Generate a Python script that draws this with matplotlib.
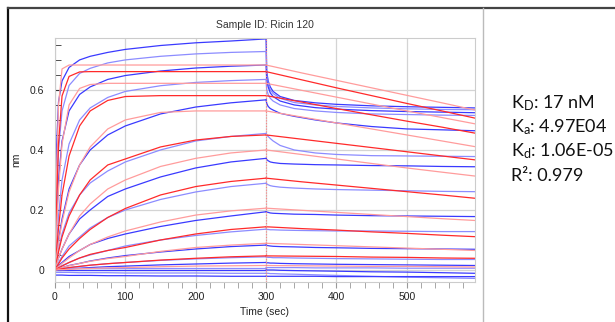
import numpy as np
import matplotlib
matplotlib.use("Agg")
import matplotlib.pyplot as plt
from matplotlib.lines import Line2D
from matplotlib.ticker import MultipleLocator

plt.rcParams['font.family'] = ['Liberation Sans', 'DejaVu Sans']
plt.rcParams['mathtext.fontset'] = 'custom'
plt.rcParams['mathtext.rm'] = 'Lato'
plt.rcParams['mathtext.it'] = 'Lato'

# sensorgram values (nm)
t_assoc = [0, 2, 5, 10, 20, 35, 50, 75, 100, 150, 200, 250, 300]
t_diss_blue = [300, 301, 303, 306, 310, 320, 340, 370, 400, 450, 500, 550, 597]
t_diss_red = [300, 350, 400, 450, 500, 550, 597]

blue_assoc = [
    [0, 0.40, 0.56, 0.63, 0.675, 0.70, 0.712, 0.725, 0.735, 0.748, 0.757, 0.763, 0.77],
    [0, 0.22, 0.40, 0.53, 0.615, 0.655, 0.672, 0.69, 0.70, 0.712, 0.72, 0.725, 0.728],
    [0, 0.15, 0.30, 0.43, 0.53, 0.585, 0.61, 0.635, 0.648, 0.663, 0.673, 0.679, 0.683],
    [0, 0.08, 0.18, 0.30, 0.42, 0.50, 0.54, 0.575, 0.595, 0.614, 0.625, 0.631, 0.635],
    [0, 0.04, 0.10, 0.17, 0.27, 0.35, 0.40, 0.45, 0.48, 0.52, 0.543, 0.557, 0.567],
    [0, 0.03, 0.07, 0.12, 0.19, 0.25, 0.29, 0.33, 0.36, 0.40, 0.43, 0.445, 0.455],
    [0, 0.02, 0.04, 0.07, 0.12, 0.17, 0.20, 0.245, 0.27, 0.31, 0.34, 0.36, 0.372],
    [0, 0.01, 0.025, 0.045, 0.08, 0.11, 0.14, 0.175, 0.20, 0.235, 0.26, 0.278, 0.289],
    [0, 0.005, 0.015, 0.025, 0.045, 0.065, 0.085, 0.105, 0.12, 0.145, 0.165, 0.18, 0.194],
    [0, 0.003, 0.008, 0.015, 0.025, 0.04, 0.05, 0.065, 0.08, 0.10, 0.115, 0.127, 0.136],
    [0, 0.002, 0.005, 0.008, 0.015, 0.022, 0.03, 0.04, 0.048, 0.06, 0.07, 0.078, 0.083],
    [0, 0.001, 0.002, 0.004, 0.008, 0.012, 0.016, 0.021, 0.025, 0.032, 0.037, 0.041, 0.044],
    [0, 0.001, 0.001, 0.002, 0.004, 0.006, 0.008, 0.011, 0.013, 0.017, 0.02, 0.023, 0.025],
    [0.008, 0.008, 0.008, 0.008, 0.008, 0.008, 0.008, 0.008, 0.008, 0.008, 0.008, 0.008, 0.008],
    [0, 0, 0, 0, 0, 0, 0, 0, 0, 0, 0, 0, 0],
    [-0.008, -0.008, -0.008, -0.008, -0.008, -0.009, -0.009, -0.009, -0.01, -0.01, -0.01, -0.011, -0.011],
    [-0.017, -0.017, -0.017, -0.017, -0.018, -0.018, -0.018, -0.019, -0.019, -0.02, -0.02, -0.021, -0.021],
]
blue_diss = [
    [0.77, 0.66, 0.63, 0.61, 0.595, 0.578, 0.565, 0.557, 0.552, 0.547, 0.544, 0.542, 0.54],
    [0.728, 0.65, 0.62, 0.60, 0.588, 0.572, 0.558, 0.55, 0.545, 0.54, 0.537, 0.535, 0.534],
    [0.683, 0.63, 0.61, 0.59, 0.578, 0.563, 0.55, 0.541, 0.536, 0.531, 0.528, 0.526, 0.524],
    [0.635, 0.60, 0.585, 0.572, 0.563, 0.55, 0.538, 0.53, 0.525, 0.52, 0.518, 0.516, 0.515],
    [0.567, 0.555, 0.545, 0.538, 0.533, 0.522, 0.512, 0.50, 0.49, 0.478, 0.47, 0.467, 0.464],
    [0.455, 0.45, 0.445, 0.438, 0.43, 0.415, 0.40, 0.39, 0.385, 0.381, 0.38, 0.379, 0.378],
    [0.372, 0.368, 0.364, 0.36, 0.358, 0.355, 0.353, 0.351, 0.35, 0.348, 0.347, 0.345, 0.344],
    [0.289, 0.287, 0.284, 0.281, 0.279, 0.276, 0.273, 0.27, 0.268, 0.266, 0.264, 0.262, 0.261],
    [0.194, 0.193, 0.192, 0.19, 0.189, 0.188, 0.186, 0.185, 0.183, 0.181, 0.18, 0.179, 0.178],
    [0.136, 0.135, 0.135, 0.134, 0.134, 0.133, 0.132, 0.131, 0.13, 0.13, 0.129, 0.128, 0.128],
    [0.083, 0.082, 0.081, 0.08, 0.079, 0.078, 0.077, 0.075, 0.074, 0.072, 0.071, 0.07, 0.069],
    [0.044, 0.043, 0.042, 0.042, 0.041, 0.041, 0.04, 0.039, 0.038, 0.037, 0.036, 0.035, 0.035],
    [0.025, 0.024, 0.024, 0.023, 0.023, 0.022, 0.021, 0.02, 0.019, 0.018, 0.017, 0.016, 0.015],
    [0.008, 0.008, 0.008, 0.008, 0.008, 0.008, 0.008, 0.007, 0.007, 0.007, 0.006, 0.006, 0.006],
    [0, 0, 0, 0, 0, -0.001, -0.002, -0.003, -0.004, -0.006, -0.007, -0.009, -0.011],
    [-0.011, -0.011, -0.011, -0.012, -0.012, -0.013, -0.014, -0.016, -0.018, -0.021, -0.024, -0.026, -0.028],
    [-0.021, -0.021, -0.021, -0.021, -0.021, -0.021, -0.021, -0.021, -0.022, -0.022, -0.022, -0.022, -0.022],
]
red_assoc = [
    [0, 0.30, 0.55, 0.67, 0.683, 0.683, 0.683, 0.683, 0.683, 0.683, 0.683, 0.683, 0.683],
    [0, 0.20, 0.42, 0.58, 0.645, 0.66, 0.661, 0.661, 0.661, 0.661, 0.661, 0.661, 0.661],
    [0, 0.12, 0.27, 0.42, 0.55, 0.605, 0.618, 0.622, 0.622, 0.622, 0.622, 0.622, 0.622],
    [0, 0.06, 0.14, 0.25, 0.38, 0.48, 0.53, 0.565, 0.578, 0.581, 0.581, 0.581, 0.581],
    [0, 0.04, 0.09, 0.16, 0.26, 0.35, 0.41, 0.47, 0.50, 0.525, 0.53, 0.53, 0.53],
    [0, 0.025, 0.06, 0.11, 0.18, 0.25, 0.30, 0.35, 0.37, 0.41, 0.433, 0.445, 0.45],
    [0, 0.015, 0.04, 0.07, 0.12, 0.18, 0.22, 0.27, 0.30, 0.345, 0.372, 0.39, 0.40],
    [0, 0.01, 0.02, 0.04, 0.07, 0.105, 0.135, 0.175, 0.205, 0.25, 0.278, 0.295, 0.306],
    [0, 0.005, 0.012, 0.022, 0.04, 0.065, 0.085, 0.11, 0.13, 0.16, 0.183, 0.197, 0.206],
    [0, 0.003, 0.007, 0.013, 0.025, 0.04, 0.052, 0.065, 0.075, 0.10, 0.12, 0.135, 0.144],
    [0, 0.002, 0.004, 0.008, 0.014, 0.022, 0.029, 0.038, 0.045, 0.062, 0.075, 0.083, 0.089],
    [0, 0.001, 0.002, 0.004, 0.008, 0.012, 0.016, 0.021, 0.025, 0.033, 0.039, 0.044, 0.047],
    [0, 0.0, 0.001, 0.001, 0.002, 0.004, 0.005, 0.007, 0.008, 0.011, 0.013, 0.014, 0.015],
]
red_diss = [
    [0.683, 0.657, 0.632, 0.607, 0.582, 0.557, 0.533],
    [0.661, 0.634, 0.607, 0.581, 0.555, 0.53, 0.506],
    [0.622, 0.599, 0.576, 0.553, 0.53, 0.508, 0.487],
    [0.581, 0.56, 0.538, 0.517, 0.496, 0.476, 0.456],
    [0.53, 0.51, 0.49, 0.47, 0.45, 0.43, 0.411],
    [0.45, 0.436, 0.422, 0.408, 0.394, 0.38, 0.367],
    [0.40, 0.385, 0.37, 0.355, 0.34, 0.326, 0.313],
    [0.306, 0.294, 0.283, 0.272, 0.261, 0.25, 0.239],
    [0.206, 0.199, 0.192, 0.185, 0.178, 0.171, 0.165],
    [0.144, 0.138, 0.133, 0.127, 0.122, 0.116, 0.111],
    [0.089, 0.085, 0.081, 0.077, 0.073, 0.069, 0.065],
    [0.047, 0.046, 0.045, 0.043, 0.042, 0.04, 0.039],
    [0.015, 0.014, 0.013, 0.012, 0.012, 0.011, 0.01],
]

title = "Sample ID: Ricin 120"
fit_lines = [r"K$_{\mathrm{D}}$: 17 nM", r"K$_{\mathrm{a}}$: 4.97E04",
             r"K$_{\mathrm{d}}$: 1.06E-05", "R²: 0.979"]

fig = plt.figure(figsize=(6.15, 3.22), dpi=100)
ax = fig.add_axes([55 / 615, 40 / 322, 420 / 615, 244 / 322])

blue_cols = ['#3a3aff', '#8c8cff']
red_cols = ['#ff2a2a', '#ff9c9c']

for i in range(len(blue_assoc)):
    c = blue_cols[i % 2]
    ax.plot(t_assoc, blue_assoc[i], color=c, lw=0.9)
    ax.plot(t_diss_blue, blue_diss[i], color=c, lw=0.9)
for i in range(len(red_assoc)):
    c = red_cols[(i + 1) % 2]
    ax.plot(t_assoc, red_assoc[i], color=c, lw=0.9)
    ax.plot(t_diss_red, red_diss[i], color=c, lw=0.9)

ax.axvline(300, color='#ff8080', lw=0.8, ls=(0, (1, 1.5)))

ax.set_xlim(0, 597)
ax.set_ylim(-0.04, 0.773)
ax.xaxis.set_major_locator(MultipleLocator(100))
ax.xaxis.set_minor_locator(MultipleLocator(20))
ax.yaxis.set_major_locator(MultipleLocator(0.2))
ax.yaxis.set_minor_locator(MultipleLocator(0.05))
ax.yaxis.set_major_formatter(lambda v, p: "0" if abs(v) < 1e-9 else f"{v:.1f}")
ax.grid(True, which='major', color='#d4d4d4', lw=0.9)
ax.set_axisbelow(True)
ax.tick_params(axis='x', which='both', direction='out', length=4, color='#999999',
               labelsize=7.5, labelcolor='#222222', pad=3)
ax.tick_params(axis='y', which='both', direction='in', length=4, color='#333333',
               labelsize=7.5, labelcolor='#222222', pad=8)
for s in ax.spines.values():
    s.set_color('#cccccc')
    s.set_linewidth(0.8)

ax.set_title(title, fontsize=7.5, color='#333333', pad=7)
ax.set_xlabel("Time (sec)", fontsize=7.5, color='#222222', labelpad=4)
ax.set_ylabel("nm", fontsize=7.5, color='#222222', labelpad=6)

# frame around the chart image and the fit panel
fig.add_artist(Line2D([8 / 615, 8 / 615], [0, 1 - 8 / 322], color='#111111', lw=1.6))
fig.add_artist(Line2D([8 / 615, 1], [1 - 8 / 322, 1 - 8 / 322], color='#444444', lw=1.6))
fig.add_artist(Line2D([483 / 615, 483 / 615], [0, 1 - 8 / 322], color='#bbbbbb', lw=1.0))

for k, line in enumerate(fit_lines):
    fig.text(511 / 615, 1 - (103 + 24.3 * k) / 322, line, fontsize=13, family='Lato',
             color='#111111', va='center', ha='left')

fig.savefig("out.png", dpi=100)
